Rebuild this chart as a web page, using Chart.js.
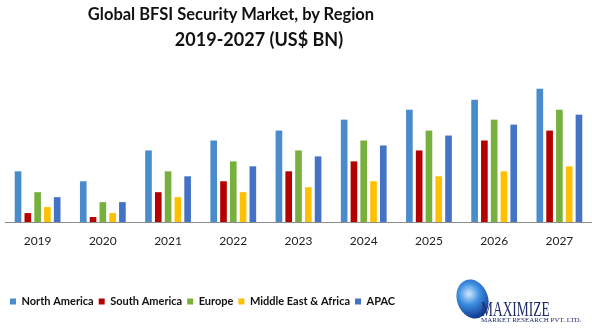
<!DOCTYPE html>
<html lang="en">
<head>
  <meta charset="UTF-8" />
  <title>Global BFSI Security Market, by Region</title>
  <script src="https://cdn.jsdelivr.net/npm/chart.js"></script>
  <style>
    body {
      margin: 0;
      background: #fff;
      font-family: Lato, sans-serif;
    }

    .wrap {
      position: relative;
      width: 592px;
      height: 330px;
      overflow: hidden;
    }

    .title {
      position: absolute;
      font-family: Lato, sans-serif;
      font-weight: bold;
      color: #111;
      white-space: nowrap;
      transform: translateX(-50%);
    }

    .logo-globe {
      position: absolute;
      left: 457px;
      top: 279px;
      width: 31px;
      height: 40px;
      border-radius: 50%;
      background: radial-gradient(circle at 45% 35%, #cfe8ff 0%, #3b8de0 35%, #15429a 75%, #0a2260 100%);
      transform: rotate(-20deg);
    }

    .logo-big {
      position: absolute;
      left: 481px;
      top: 299px;
      font-family: "Liberation Serif", serif;
      font-size: 21px;
      color: #1d2b6b;
      transform: scaleX(0.64);
      transform-origin: left top;
      line-height: 1;
    }

    .logo-small {
      position: absolute;
      left: 481px;
      top: 317px;
      font-family: "Liberation Serif", serif;
      font-size: 7px;
      color: #1d2b6b;
      line-height: 1;
      white-space: nowrap;
    }
  </style>
</head>
<body>
  <div class="wrap">
    <canvas id="bfsiChart" width="592" height="330"></canvas>
    <div class="title" style="left:231px; top:4px; font-size:16.5px;">Global BFSI Security Market, by Region</div>
    <div class="title" style="left:259px; top:28px; font-size:18px;">2019-2027 (US$ BN)</div>
    <div class="logo-globe"></div>
    <div class="logo-big">MAXIMIZE</div>
    <div class="logo-small">MARKET RESEARCH PVT. LTD.</div>
  </div>

  <script>
    const years = ["2019", "2020", "2021", "2022", "2023", "2024", "2025", "2026", "2027"];

    const northAmerica = [5.1, 4.1, 7.2, 8.2, 9.2, 10.3, 11.3, 12.3, 13.4];
    const southAmerica = [0.9, 0.5, 3.0, 4.1, 5.1, 6.1, 7.2, 8.2, 9.2];
    const europe = [3.0, 2.0, 5.1, 6.1, 7.2, 8.2, 9.2, 10.3, 11.3];
    const middleEastAfrica = [1.5, 0.9, 2.5, 3.0, 3.5, 4.1, 4.6, 5.1, 5.6];
    const apac = [2.5, 2.0, 4.6, 5.6, 6.6, 7.7, 8.7, 9.8, 10.8];

    function ds(label, data, color) {
      return {
        label: label,
        data: data,
        backgroundColor: color,
        borderWidth: 0,
        barPercentage: 0.68,
        categoryPercentage: 0.75
      };
    }

    const ctx = document.getElementById("bfsiChart").getContext("2d");

    new Chart(ctx, {
      type: "bar",
      data: {
        labels: years,
        datasets: [
          ds("North America", northAmerica, "#4a8bcb"),
          ds("South America", southAmerica, "#b50000"),
          ds("Europe", europe, "#78b03e"),
          ds("Middle East & Africa", middleEastAfrica, "#ffc000"),
          ds("APAC", apac, "#4472c4")
        ]
      },
      options: {
        responsive: false,
        animation: false,
        layout: {
          padding: { top: 63, left: 5, right: 0, bottom: 13 }
        },
        plugins: {
          title: { display: false },
          tooltip: { enabled: false },
          legend: {
            position: "bottom",
            align: "start",
            labels: {
              boxWidth: 6,
              boxHeight: 6,
              padding: 5,
              color: "#111",
              font: { family: "Lato", size: 11, weight: "bold" }
            }
          }
        },
        scales: {
          x: {
            grid: { display: false, drawTicks: false },
            border: { display: true, color: "#8c8c8c", width: 1 },
            ticks: {
              color: "#222",
              padding: 12,
              font: { family: "Lato", size: 12 }
            },
            afterFit: function (scale) {
              scale.height = 69;
            }
          },
          y: {
            display: false,
            min: 0,
            max: 16
          }
        }
      }
    });
  </script>
</body>
</html>
